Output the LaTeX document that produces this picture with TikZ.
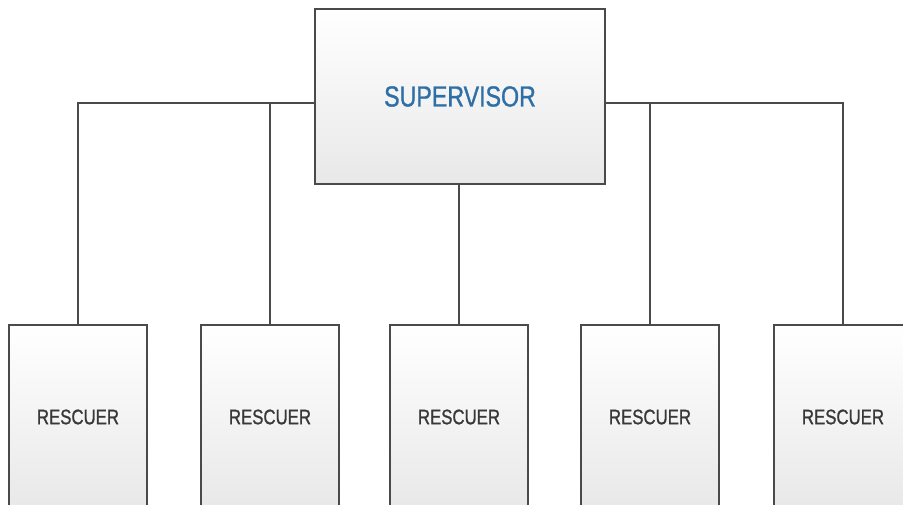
\documentclass[tikz,border=0pt]{standalone}
\usepackage{fontspec}
\setmainfont{Liberation Sans}[FakeStretch=0.8, FakeBold=1]
\usepackage{tikz}
\definecolor{boxline}{HTML}{4A4A4A}
\definecolor{supblue}{HTML}{2E6FA6}
\tikzset{
  orgbox/.style={draw=boxline, line width=1.5pt, top color=white, bottom color=black!9,
    inner sep=0pt, font=\fontsize{21}{24}\selectfont, text=black!78},
  supbox/.style={orgbox, line width=1.8pt, minimum width=290pt, minimum height=175pt,
    font=\fontsize{29}{32}\selectfont, text=supblue},
  rescbox/.style={orgbox, minimum width=138pt, minimum height=184pt},
  link/.style={draw=boxline, line width=1.3pt}
}

\begin{document}
\begin{tikzpicture}[x=1pt, y=-1pt]
  \useasboundingbox (0,0) rectangle (903,505);
  \clip (0,0) rectangle (903,505);
  \fill[white] (0,0) rectangle (903,505);

  \node[supbox] (sup) at (460,96.5) {SUPERVISOR};

  \node[rescbox] (r1) at (78,417) {RESCUER};
  \node[rescbox] (r2) at (270,417) {RESCUER};
  \node[rescbox] (r3) at (459,417) {RESCUER};
  \node[rescbox] (r4) at (650,417) {RESCUER};
  \node[rescbox] (r5) at (843,417) {RESCUER};

  % bar height
  \coordinate (bar) at ([yshift=-6.5pt]sup.west);
  \coordinate (barR) at ([yshift=-6.5pt]sup.east);

  \draw[link] (r1.north) |- (bar);
  \draw[link] (r5.north) |- (barR);
  \draw[link] (r2.north) -- (r2.north |- bar);
  \draw[link] (r4.north) -- (r4.north |- bar);
  \draw[link] (r3.north) -- (r3.north |- sup.south);
\end{tikzpicture}
\end{document}
